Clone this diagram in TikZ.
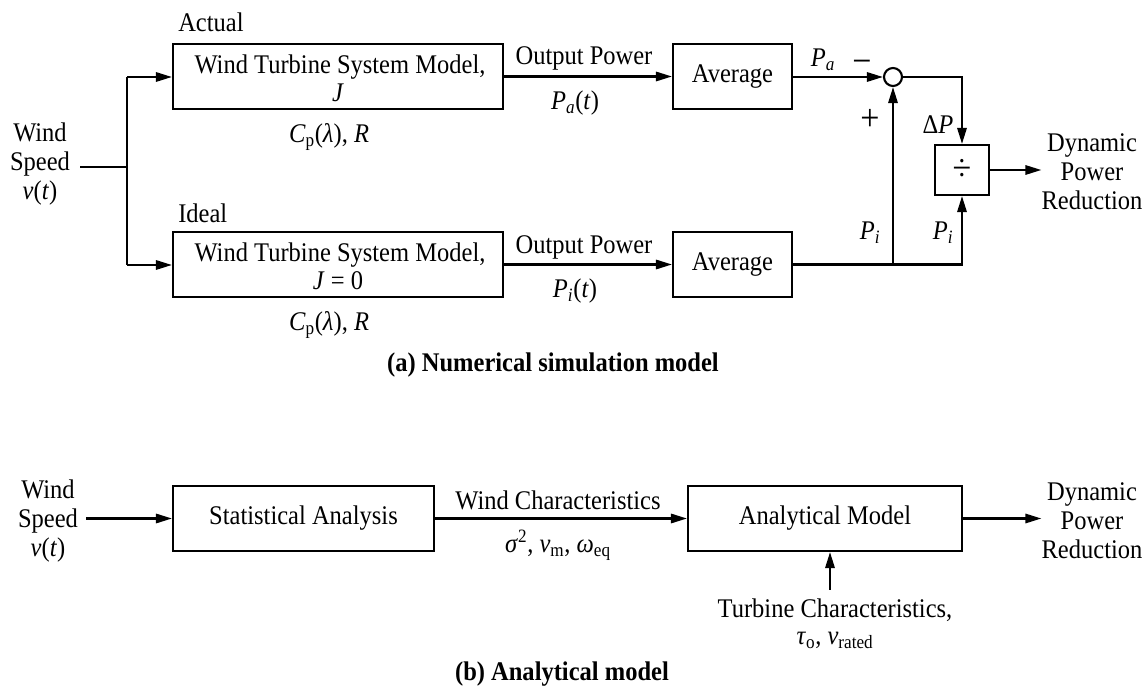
\documentclass[tikz,border=0pt]{standalone}
\usepackage{fontspec}
\setmainfont{Liberation Serif}[FakeStretch=0.91]
\usetikzlibrary{arrows.meta}
\newcommand\ii[1]{\textit{#1}}
\newcommand\lsb[1]{\textsubscript{#1}}
\begin{document}
\begin{tikzpicture}[x=0.75pt,y=-0.75pt,
  font=\fontsize{20.2pt}{21.75pt}\selectfont,
  blk/.style={draw,line width=1.6pt,minimum height=48.75pt,inner sep=0pt,align=center},
  lbl/.style={inner sep=0pt,align=center},
  conn/.style={line width=1.6pt},
  arr/.style={conn,-{Triangle[length=12pt,width=7pt]}},
  bigsym/.style={inner sep=0pt,anchor=base,font=\fontsize{28pt}{28pt}\selectfont},
  captxt/.style={inner sep=0pt,font=\fontsize{20.2pt}{22pt}\selectfont\bfseries}
]
\useasboundingbox (0,0) rectangle (1147,698);
% ---------- (a) ----------
\node[lbl] (ws1) at (40,164) {Wind\\Speed\\\ii{v}(\ii{t})};
\coordinate (ws1o) at (80,167);
\coordinate (br) at (127,167);
\coordinate (brt) at (127,77);
\coordinate (brb) at (127,265);
\node[blk,minimum width=247.5pt] (wt1) at (338,76.5) {};
\node[lbl,anchor=base] (wt1a) at (340,74) {Wind Turbine System Model,};
\node[lbl,anchor=base] (wt1b) at (338,102) {\ii{J}};
\node[blk,minimum width=247.5pt] (wt2) at (338,264.5) {};
\node[lbl,anchor=base] (wt2a) at (340,262) {Wind Turbine System Model,};
\node[lbl,anchor=base] (wt2b) at (338,290) {\ii{J} = 0};
\node[lbl,anchor=west] (act) at (178,22) {Actual};
\node[lbl,anchor=west] (idl) at (178,213) {Ideal};
\node[lbl] (cp1) at (329,137) {\ii{C}\lsb{p}(\ii{λ}), \ii{R}};
\node[lbl] (cp2) at (329,325) {\ii{C}\lsb{p}(\ii{λ}), \ii{R}};
\node[blk,minimum width=89.25pt] (av1) at (732.5,76.5) {Average};
\node[blk,minimum width=89.25pt] (av2) at (732.5,264.5) {Average};
\node[lbl] (op1) at (584,58) {Output Power};
\node[lbl] (pat) at (575,103) {\ii{P}\lsb{\ii{a}}(\ii{t})};
\node[lbl] (op2) at (584,247) {Output Power};
\node[lbl] (pit) at (575,291) {\ii{P}\lsb{\ii{i}}(\ii{t})};
\node[draw,circle,line width=1.6pt,minimum size=13.5pt,inner sep=0pt] (sum) at (893,77) {};
\node[lbl] (pa) at (823,60) {\ii{P}\lsb{\ii{a}}};
\node[bigsym] (minus) at (862,74) {−};
\node[bigsym] (plus) at (870,131) {+};
\coordinate (sr) at (962,77);
\node[blk,minimum width=40.5pt,minimum height=37.5pt,font=\fontsize{28pt}{28pt}\selectfont] (div) at (962,170) {÷};
\node[lbl] (dp) at (938,125) {Δ\ii{P}};
\node[lbl] (pi2) at (870,233) {\ii{P}\lsb{\ii{i}}};
\node[lbl] (pi3) at (943,233) {\ii{P}\lsb{\ii{i}}};
\coordinate (jn) at (893,264.5);
\coordinate (jr) at (962,264.5);
\node[lbl] (dpr1) at (1092,172) {Dynamic\\Power\\Reduction};
\node[captxt] (capa) at (553,365) {(a) Numerical simulation model};
\draw[conn] (ws1o) -- (br);
\draw[conn] (brt) -- (brb);
\draw[arr] (brt) -- (wt1.west |- brt);
\draw[arr] (brb) -- (wt2.west |- brb);
\draw[arr] (wt1.east) -- (av1.west);
\draw[arr] (wt2.east) -- (av2.west);
\draw[arr] (av1.east |- sum) -- (sum.west);
\draw[arr] (jn) -- (sum.south);
\draw[arr] (av2.east) -- (jr) -- (div.south);
\draw[arr] (sum.east) -- (sr) -- (div.north);
\draw[arr] (div.east) -- (dpr1.west |- div.east);
% ---------- (b) ----------
\node[lbl] (ws2) at (48,521) {Wind\\Speed\\\ii{v}(\ii{t})};
\coordinate (ws2o) at (86,518.5);
\node[blk,minimum width=195.75pt] (sa) at (303.5,518.5) {Statistical Analysis};
\node[blk,minimum width=205.5pt] (am) at (825,518.5) {Analytical Model};
\node[lbl] (wc) at (558,500) {Wind Characteristics};
\node[lbl] (wcp) at (558,545) {\ii{σ}\textsuperscript{2}, \ii{v}\lsb{m}, \ii{ω}\lsb{eq}};
\node[lbl] (tc) at (835,610) {Turbine Characteristics,};
\node[lbl] (tcp) at (835,640) {\ii{τ}\lsb{o}, \ii{v}\lsb{rated}};
\coordinate (tca) at (830,590);
\node[lbl] (dpr2) at (1092,521) {Dynamic\\Power\\Reduction};
\node[captxt] (capb) at (562,674) {(b) Analytical model};
\draw[arr] (ws2o) -- (sa.west);
\draw[arr] (sa.east) -- (am.west);
\draw[arr] (am.east) -- (dpr2.west |- am.east);
\draw[arr] (tca) -- (am.south -| tca);
\end{tikzpicture}
\end{document}
